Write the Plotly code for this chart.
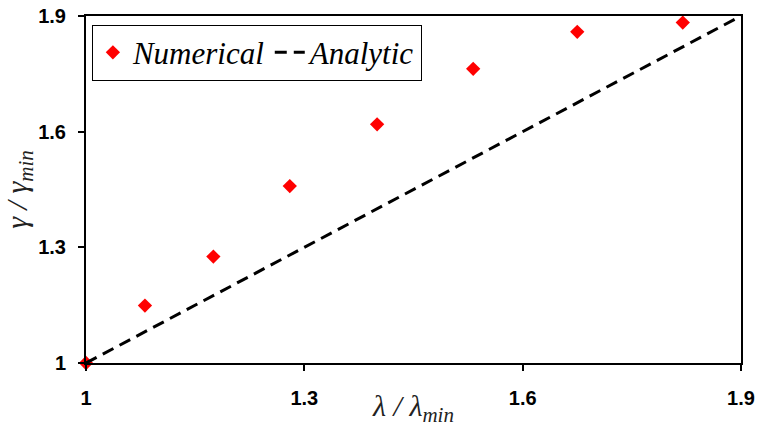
import plotly.graph_objects as go

# Normalised wavelength vs. normalised growth rate
lam_num = [1.0, 1.081, 1.175, 1.280, 1.400, 1.532, 1.675, 1.820]
gam_num = [1.0, 1.149, 1.276, 1.459, 1.619, 1.763, 1.859, 1.883]

# Analytic prediction: gamma/gamma_min = lambda/lambda_min
lam_ana = [1.0, 1.9]
gam_ana = [1.0, 1.9]

tick_vals = [1, 1.3, 1.6, 1.9]
tick_text = ["1", "1.3", "1.6", "1.9"]

SERIF = "Liberation Serif"
SANS = "Liberation Sans"

fig = go.Figure()
fig.add_trace(go.Scatter(
    x=lam_num, y=gam_num, mode="markers", name="Numerical",
    marker=dict(symbol="diamond", size=11, color="#ff0000"),
    cliponaxis=False,
))
fig.add_trace(go.Scatter(
    x=lam_ana, y=gam_ana, mode="lines", name="Analytic",
    line=dict(color="black", width=3, dash="12px,7px"),
))

axis_common = dict(
    showline=True, linecolor="black", linewidth=2, mirror=True,
    ticks="outside", ticklen=6, tickwidth=1.5, tickcolor="black",
    showgrid=False, zeroline=False, automargin=False,
    tickvals=tick_vals, ticktext=tick_text,
    tickfont=dict(family=SANS, size=20, color="black", weight="bold"),
)

fig.update_layout(
    width=757, height=427,
    margin=dict(l=86, r=16, t=16, b=64),
    paper_bgcolor="white", plot_bgcolor="white",
    xaxis=dict(
        range=[1, 1.9], **axis_common,
        ticklabelstandoff=10,
        title=dict(
            text="<i>λ / λ</i><sub><i>min</i></sub>",
            font=dict(family=SERIF, size=30, color="#222"),
            standoff=4,
        ),
    ),
    yaxis=dict(
        range=[1, 1.9], **axis_common,
        ticklabelstandoff=8,
        title=dict(
            text="<i>γ / γ</i><sub><i>min</i></sub>",
            font=dict(family=SERIF, size=30, color="#222"),
            standoff=8,
        ),
    ),
    legend=dict(
        x=0.009, y=0.975, xanchor="left", yanchor="top",
        orientation="h",
        bgcolor="white", bordercolor="black", borderwidth=1,
        font=dict(family=SERIF, size=31, color="black", style="italic"),
        itemwidth=30, tracegroupgap=0,
    ),
    showlegend=True,
)

fig.write_html("out.html")
